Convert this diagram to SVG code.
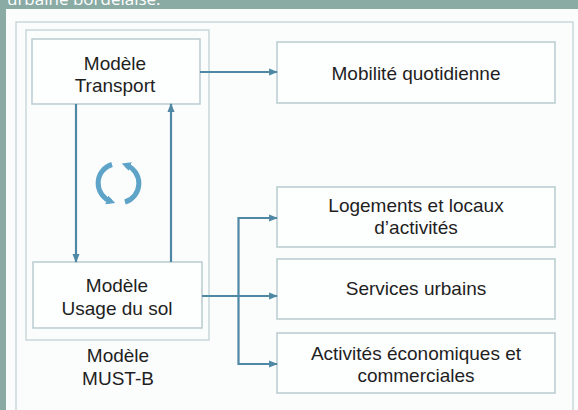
<svg xmlns="http://www.w3.org/2000/svg" width="578" height="410" viewBox="0 0 578 410">
<style>
.frame{fill:none;stroke:#c9d7da;stroke-width:1.5}
.box{fill:#fdfefe;stroke:#b8cbd0;stroke-width:1.5}
.t{font-family:"Liberation Sans",Arial,sans-serif;font-size:19px;fill:#1f1f1f;text-anchor:middle}
.c{fill:none;stroke:#4f88a4;stroke-width:2.2}
.hd{font-family:"Open Sans",sans-serif;font-size:17px;fill:#ffffff}
</style>
<defs>
<marker id="ah" viewBox="0 0 10 10" refX="9" refY="5" markerWidth="4" markerHeight="4" orient="auto" markerUnits="strokeWidth">
<path d="M0,1 L10,5 L0,9 z" fill="#4f88a4"/>
</marker>
<marker id="cy" viewBox="0 0 10 10" refX="5" refY="5" markerWidth="1.8" markerHeight="1.8" orient="auto" markerUnits="strokeWidth">
<path d="M0,0 L10,5 L0,10 z" fill="#5ea3c8"/>
</marker>
</defs>
<rect x="0" y="0" width="578" height="410" fill="#8aaba4"/>
<text class="hd" x="7" y="5">urbaine bordelaise.</text>
<rect x="6" y="9" width="572" height="401" fill="#fbfcfc"/>
<rect class="frame" x="16" y="22" width="557" height="400"/>
<g id="must-b">
<rect class="frame" x="26" y="30" width="183" height="310"/>
<text class="t" x="118" y="361.5">Modèle</text>
<text class="t" x="118" y="384.5">MUST-B</text>
</g>
<g id="transport">
<rect class="box" x="32" y="39" width="168" height="65"/>
<text class="t" x="115" y="69.5">Modèle</text>
<text class="t" x="115" y="91.5">Transport</text>
</g>
<g id="usage">
<rect class="box" x="33" y="262" width="169" height="66"/>
<text class="t" x="117" y="291.5">Modèle</text>
<text class="t" x="117" y="314.5">Usage du sol</text>
</g>
<g id="mobilite">
<rect class="box" x="277" y="42" width="278" height="61"/>
<text class="t" x="416" y="79.5">Mobilité quotidienne</text>
</g>
<g id="logements">
<rect class="box" x="277" y="187" width="278" height="60"/>
<text class="t" x="416" y="211.5">Logements et locaux</text>
<text class="t" x="416" y="233.5">d’activités</text>
</g>
<g id="services">
<rect class="box" x="277" y="259" width="278" height="60"/>
<text class="t" x="416" y="294.5">Services urbains</text>
</g>
<g id="activites">
<rect class="box" x="277" y="333" width="278" height="60"/>
<text class="t" x="416" y="359.5">Activités économiques et</text>
<text class="t" x="416" y="381.5">commerciales</text>
</g>
<g id="cycle">
<path d="M112,164.5 A19.5,19.5 0 0 0 111,201.5" fill="none" stroke="#5ea3c8" stroke-width="5" marker-end="url(#cy)"/>
<path d="M125,202 A19.5,19.5 0 0 0 126,165" fill="none" stroke="#5ea3c8" stroke-width="5" marker-end="url(#cy)"/>
</g>
<g id="connectors">
<line class="c" x1="200" y1="72" x2="277" y2="72" marker-end="url(#ah)"/>
<line class="c" x1="76" y1="104" x2="76" y2="262" marker-end="url(#ah)"/>
<line class="c" x1="171" y1="262" x2="171" y2="104" marker-end="url(#ah)"/>
<line class="c" x1="202" y1="296" x2="277" y2="296" marker-end="url(#ah)"/>
<path class="c" d="M277,218 H238.5 V364 H277" marker-end="url(#ah)"/>
<line class="c" x1="238.5" y1="218" x2="277" y2="218" marker-end="url(#ah)"/>
</g>
</svg>
